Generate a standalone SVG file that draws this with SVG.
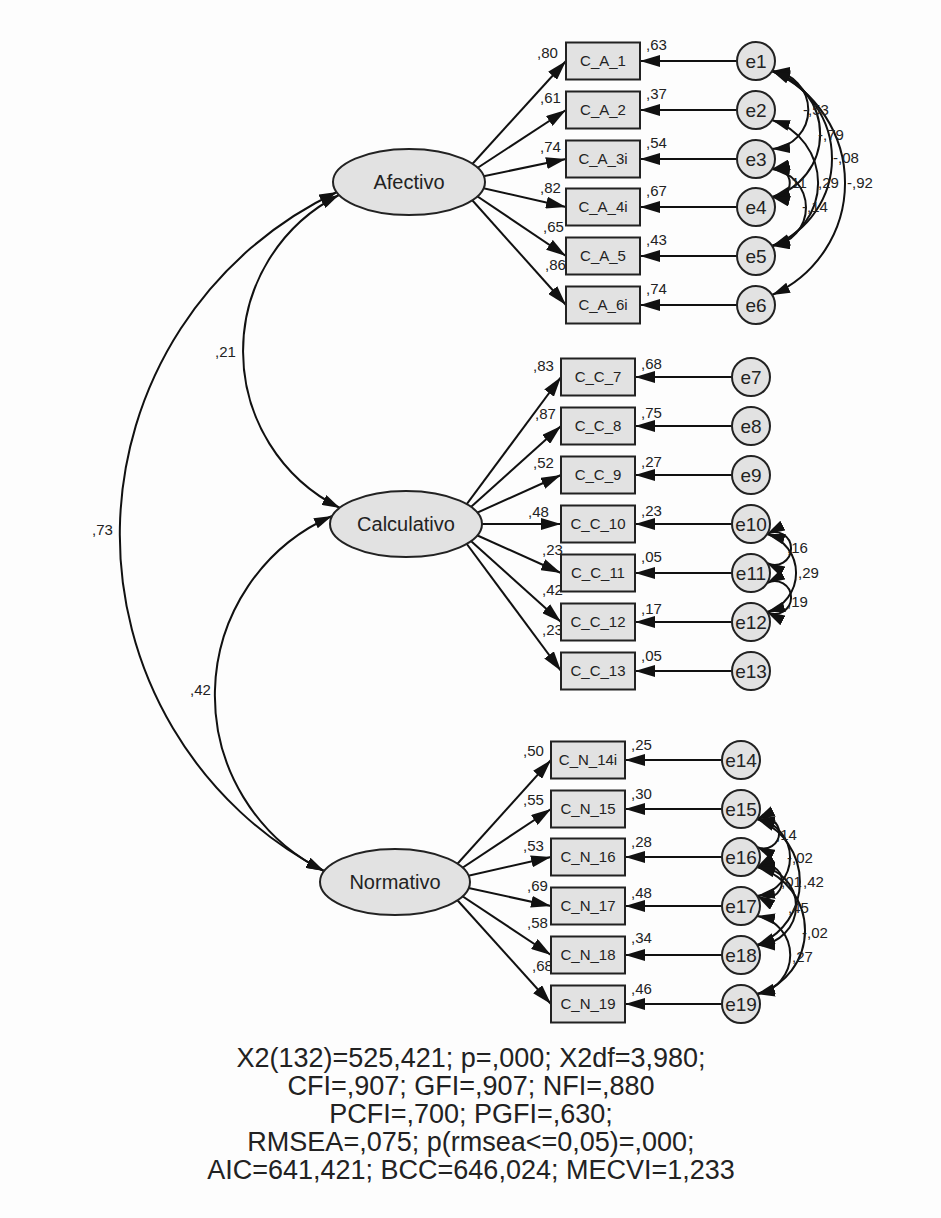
<svg xmlns="http://www.w3.org/2000/svg" width="941" height="1218" viewBox="0 0 941 1218">
<style>
.ln{stroke:#111;stroke-width:2;fill:none}
.ld{marker-end:url(#ah)}
.cv{marker-start:url(#as);marker-end:url(#as)}
.bx{fill:#e2e2e2;stroke:#222;stroke-width:2}
.ov{fill:#e2e2e2;stroke:#222;stroke-width:2}
text{font-family:"Liberation Sans",Arial,sans-serif;fill:#222}
.bt{font-size:15px;text-anchor:middle}
.lb{font-size:15px}
.lt{font-size:20px;text-anchor:middle}
.et{font-size:19px;text-anchor:middle}
.ft{font-size:27px;text-anchor:middle}
</style>
<defs>
<marker id="ah" viewBox="0 0 20 12" refX="20" refY="6" markerWidth="20" markerHeight="12" markerUnits="userSpaceOnUse" orient="auto-start-reverse"><path d="M0,0 L20,6 L0,12 z" fill="#111"/></marker>
<marker id="as" viewBox="0 0 18 11" refX="18" refY="5.5" markerWidth="18" markerHeight="11" markerUnits="userSpaceOnUse" orient="auto-start-reverse"><path d="M0,0 L18,5.5 L0,11 z" fill="#111"/></marker>
</defs>
<rect x="0" y="0" width="941" height="1218" fill="#fdfdfd"/>
<g id="connectors">
<path class="ln cv" d="M337,192 A379,379 0 0 0 324,871"/>
<path class="ln cv" d="M339,195 A175.2,175.2 0 0 0 340,508"/>
<path class="ln cv" d="M332,516 A195.9,195.9 0 0 0 324,871"/>
<path class="ln ld" d="M456,182 L566,61"/>
<path class="ln ld" d="M456,182 L566,110"/>
<path class="ln ld" d="M456,182 L566,159"/>
<path class="ln ld" d="M456,182 L566,207"/>
<path class="ln ld" d="M456,182 L566,256"/>
<path class="ln ld" d="M456,182 L566,305"/>
<path class="ln ld" d="M452,524 L561,377"/>
<path class="ln ld" d="M452,524 L561,426"/>
<path class="ln ld" d="M452,524 L561,475"/>
<path class="ln ld" d="M452,524 L561,524"/>
<path class="ln ld" d="M452,524 L561,573"/>
<path class="ln ld" d="M452,524 L561,622"/>
<path class="ln ld" d="M452,524 L561,671"/>
<path class="ln ld" d="M441,882 L551,760"/>
<path class="ln ld" d="M441,882 L551,809"/>
<path class="ln ld" d="M441,882 L551,857"/>
<path class="ln ld" d="M441,882 L551,906"/>
<path class="ln ld" d="M441,882 L551,955"/>
<path class="ln ld" d="M441,882 L551,1004"/>
<path class="ln ld" d="M737,61 L640,61"/>
<path class="ln ld" d="M737,110 L640,110"/>
<path class="ln ld" d="M737,159 L640,159"/>
<path class="ln ld" d="M737,207 L640,207"/>
<path class="ln ld" d="M737,256 L640,256"/>
<path class="ln ld" d="M737,305 L640,305"/>
<path class="ln ld" d="M732,377 L635,377"/>
<path class="ln ld" d="M732,426 L635,426"/>
<path class="ln ld" d="M732,475 L635,475"/>
<path class="ln ld" d="M732,524 L635,524"/>
<path class="ln ld" d="M732,573 L635,573"/>
<path class="ln ld" d="M732,622 L635,622"/>
<path class="ln ld" d="M732,671 L635,671"/>
<path class="ln ld" d="M722,760 L625,760"/>
<path class="ln ld" d="M722,809 L625,809"/>
<path class="ln ld" d="M722,857 L625,857"/>
<path class="ln ld" d="M722,906 L625,906"/>
<path class="ln ld" d="M722,955 L625,955"/>
<path class="ln ld" d="M722,1004 L625,1004"/>
<path class="ln cv" d="M772,71 A39.1,39.1 0 0 1 772,149"/>
<path class="ln cv" d="M772,71 A65.3,65.3 0 0 1 772,197"/>
<path class="ln cv" d="M772,71 A93.8,93.8 0 0 1 772,246"/>
<path class="ln cv" d="M772,71 A122.4,122.4 0 0 1 772,295"/>
<path class="ln cv" d="M772,120 A66.1,66.1 0 0 1 772,246"/>
<path class="ln cv" d="M772,169 A14.4,14.4 0 1 1 772,197"/>
<path class="ln cv" d="M772,169 A38.8,38.8 0 0 1 772,246"/>
<path class="ln cv" d="M767,534 A16.4,16.4 0 1 1 767,563"/>
<path class="ln cv" d="M767,534 A40.7,40.7 0 0 1 767,612"/>
<path class="ln cv" d="M767,583 A16.4,16.4 0 1 1 767,612"/>
<path class="ln cv" d="M757,819 A15.5,15.5 0 1 1 757,847"/>
<path class="ln cv" d="M757,819 A38.95,38.95 0 0 1 757,896"/>
<path class="ln cv" d="M757,867 A16.7,16.7 0 1 1 757,896"/>
<path class="ln cv" d="M757,819 A67.7,67.7 0 0 1 757,945"/>
<path class="ln cv" d="M757,867 A39,39 0 0 1 757,945"/>
<path class="ln cv" d="M757,867 A66,66 0 0 1 757,994"/>
<path class="ln cv" d="M757,916 A39.5,39.5 0 0 1 757,994"/>
</g>
<g id="connector-labels">
<text class="lb" x="92" y="535">,73</text>
<text class="lb" x="215" y="357">,21</text>
<text class="lb" x="190" y="695">,42</text>
<text class="lb" x="537" y="58">,80</text>
<text class="lb" x="540" y="103">,61</text>
<text class="lb" x="540" y="152">,74</text>
<text class="lb" x="540" y="193">,82</text>
<text class="lb" x="543" y="232">,65</text>
<text class="lb" x="545" y="270">,86</text>
<text class="lb" x="533" y="371">,83</text>
<text class="lb" x="535" y="419">,87</text>
<text class="lb" x="533" y="468">,52</text>
<text class="lb" x="528" y="517">,48</text>
<text class="lb" x="542" y="555">,23</text>
<text class="lb" x="542" y="595">,42</text>
<text class="lb" x="542" y="635">,23</text>
<text class="lb" x="523" y="756">,50</text>
<text class="lb" x="523" y="805">,55</text>
<text class="lb" x="523" y="851">,53</text>
<text class="lb" x="527" y="891">,69</text>
<text class="lb" x="527" y="928">,58</text>
<text class="lb" x="532" y="971">,68</text>
<text class="lb" x="803" y="115">-,53</text>
<text class="lb" x="818" y="140">-,79</text>
<text class="lb" x="833" y="163">-,08</text>
<text class="lb" x="787" y="188">,11</text>
<text class="lb" x="818" y="188">,29</text>
<text class="lb" x="847" y="188">-,92</text>
<text class="lb" x="802" y="212">-,14</text>
<text class="lb" x="787" y="553">,16</text>
<text class="lb" x="798" y="578">,29</text>
<text class="lb" x="787" y="607">,19</text>
<text class="lb" x="776" y="840">,14</text>
<text class="lb" x="787" y="863">-,02</text>
<text class="lb" x="781" y="887">,01</text>
<text class="lb" x="803" y="887">,42</text>
<text class="lb" x="788" y="913">,45</text>
<text class="lb" x="802" y="938">-,02</text>
<text class="lb" x="792" y="962">,27</text>
</g>
<g id="Afectivo"><ellipse class="ov" cx="409" cy="182" rx="76" ry="33"/><text class="lt" x="409" y="189">Afectivo</text></g>
<g id="Calculativo"><ellipse class="ov" cx="406" cy="524" rx="76" ry="33"/><text class="lt" x="406" y="531">Calculativo</text></g>
<g id="Normativo"><ellipse class="ov" cx="395" cy="882" rx="75" ry="33"/><text class="lt" x="395" y="889">Normativo</text></g>
<g id="C_A_1"><rect class="bx" x="566" y="42.5" width="74" height="37"/><text class="bt" x="603" y="66">C_A_1</text><text class="lb" x="646" y="50">,63</text></g>
<g id="C_A_2"><rect class="bx" x="566" y="91.5" width="74" height="37"/><text class="bt" x="603" y="115">C_A_2</text><text class="lb" x="646" y="99">,37</text></g>
<g id="C_A_3i"><rect class="bx" x="566" y="140.5" width="74" height="37"/><text class="bt" x="603" y="164">C_A_3i</text><text class="lb" x="646" y="148">,54</text></g>
<g id="C_A_4i"><rect class="bx" x="566" y="188.5" width="74" height="37"/><text class="bt" x="603" y="212">C_A_4i</text><text class="lb" x="646" y="196">,67</text></g>
<g id="C_A_5"><rect class="bx" x="566" y="237.5" width="74" height="37"/><text class="bt" x="603" y="261">C_A_5</text><text class="lb" x="646" y="245">,43</text></g>
<g id="C_A_6i"><rect class="bx" x="566" y="286.5" width="74" height="37"/><text class="bt" x="603" y="310">C_A_6i</text><text class="lb" x="646" y="294">,74</text></g>
<g id="C_C_7"><rect class="bx" x="561" y="358.5" width="74" height="37"/><text class="bt" x="598" y="382">C_C_7</text><text class="lb" x="641" y="369">,68</text></g>
<g id="C_C_8"><rect class="bx" x="561" y="407.5" width="74" height="37"/><text class="bt" x="598" y="431">C_C_8</text><text class="lb" x="641" y="418">,75</text></g>
<g id="C_C_9"><rect class="bx" x="561" y="456.5" width="74" height="37"/><text class="bt" x="598" y="480">C_C_9</text><text class="lb" x="641" y="467">,27</text></g>
<g id="C_C_10"><rect class="bx" x="561" y="505.5" width="74" height="37"/><text class="bt" x="598" y="529">C_C_10</text><text class="lb" x="641" y="516">,23</text></g>
<g id="C_C_11"><rect class="bx" x="561" y="554.5" width="74" height="37"/><text class="bt" x="598" y="578">C_C_11</text><text class="lb" x="641" y="562">,05</text></g>
<g id="C_C_12"><rect class="bx" x="561" y="603.5" width="74" height="37"/><text class="bt" x="598" y="627">C_C_12</text><text class="lb" x="641" y="614">,17</text></g>
<g id="C_C_13"><rect class="bx" x="561" y="652.5" width="74" height="37"/><text class="bt" x="598" y="676">C_C_13</text><text class="lb" x="641" y="661">,05</text></g>
<g id="C_N_14i"><rect class="bx" x="551" y="741.5" width="74" height="37"/><text class="bt" x="588" y="765">C_N_14i</text><text class="lb" x="631" y="750">,25</text></g>
<g id="C_N_15"><rect class="bx" x="551" y="790.5" width="74" height="37"/><text class="bt" x="588" y="814">C_N_15</text><text class="lb" x="631" y="799">,30</text></g>
<g id="C_N_16"><rect class="bx" x="551" y="838.5" width="74" height="37"/><text class="bt" x="588" y="862">C_N_16</text><text class="lb" x="631" y="847">,28</text></g>
<g id="C_N_17"><rect class="bx" x="551" y="887.5" width="74" height="37"/><text class="bt" x="588" y="911">C_N_17</text><text class="lb" x="631" y="898">,48</text></g>
<g id="C_N_18"><rect class="bx" x="551" y="936.5" width="74" height="37"/><text class="bt" x="588" y="960">C_N_18</text><text class="lb" x="631" y="943">,34</text></g>
<g id="C_N_19"><rect class="bx" x="551" y="985.5" width="74" height="37"/><text class="bt" x="588" y="1009">C_N_19</text><text class="lb" x="631" y="994">,46</text></g>
<g id="e1"><circle class="ov" cx="756" cy="61" r="19"/><text class="et" x="756" y="68">e1</text></g>
<g id="e2"><circle class="ov" cx="756" cy="110" r="19"/><text class="et" x="756" y="117">e2</text></g>
<g id="e3"><circle class="ov" cx="756" cy="159" r="19"/><text class="et" x="756" y="166">e3</text></g>
<g id="e4"><circle class="ov" cx="756" cy="207" r="19"/><text class="et" x="756" y="214">e4</text></g>
<g id="e5"><circle class="ov" cx="756" cy="256" r="19"/><text class="et" x="756" y="263">e5</text></g>
<g id="e6"><circle class="ov" cx="756" cy="305" r="19"/><text class="et" x="756" y="312">e6</text></g>
<g id="e7"><circle class="ov" cx="751" cy="377" r="19"/><text class="et" x="751" y="384">e7</text></g>
<g id="e8"><circle class="ov" cx="751" cy="426" r="19"/><text class="et" x="751" y="433">e8</text></g>
<g id="e9"><circle class="ov" cx="751" cy="475" r="19"/><text class="et" x="751" y="482">e9</text></g>
<g id="e10"><circle class="ov" cx="751" cy="524" r="19"/><text class="et" x="751" y="531">e10</text></g>
<g id="e11"><circle class="ov" cx="751" cy="573" r="19"/><text class="et" x="751" y="580">e11</text></g>
<g id="e12"><circle class="ov" cx="751" cy="622" r="19"/><text class="et" x="751" y="629">e12</text></g>
<g id="e13"><circle class="ov" cx="751" cy="671" r="19"/><text class="et" x="751" y="678">e13</text></g>
<g id="e14"><circle class="ov" cx="741" cy="760" r="19"/><text class="et" x="741" y="767">e14</text></g>
<g id="e15"><circle class="ov" cx="741" cy="809" r="19"/><text class="et" x="741" y="816">e15</text></g>
<g id="e16"><circle class="ov" cx="741" cy="857" r="19"/><text class="et" x="741" y="864">e16</text></g>
<g id="e17"><circle class="ov" cx="741" cy="906" r="19"/><text class="et" x="741" y="913">e17</text></g>
<g id="e18"><circle class="ov" cx="741" cy="955" r="19"/><text class="et" x="741" y="962">e18</text></g>
<g id="e19"><circle class="ov" cx="741" cy="1004" r="19"/><text class="et" x="741" y="1011">e19</text></g>
<g id="fit-indices">
<text class="ft" x="471" y="1067">X2(132)=525,421; p=,000; X2df=3,980;</text>
<text class="ft" x="471" y="1095">CFI=,907; GFI=,907; NFI=,880</text>
<text class="ft" x="471" y="1123">PCFI=,700; PGFI=,630;</text>
<text class="ft" x="471" y="1151">RMSEA=,075; p(rmsea&lt;=0,05)=,000;</text>
<text class="ft" x="471" y="1179">AIC=641,421; BCC=646,024; MECVI=1,233</text>
</g>
</svg>
